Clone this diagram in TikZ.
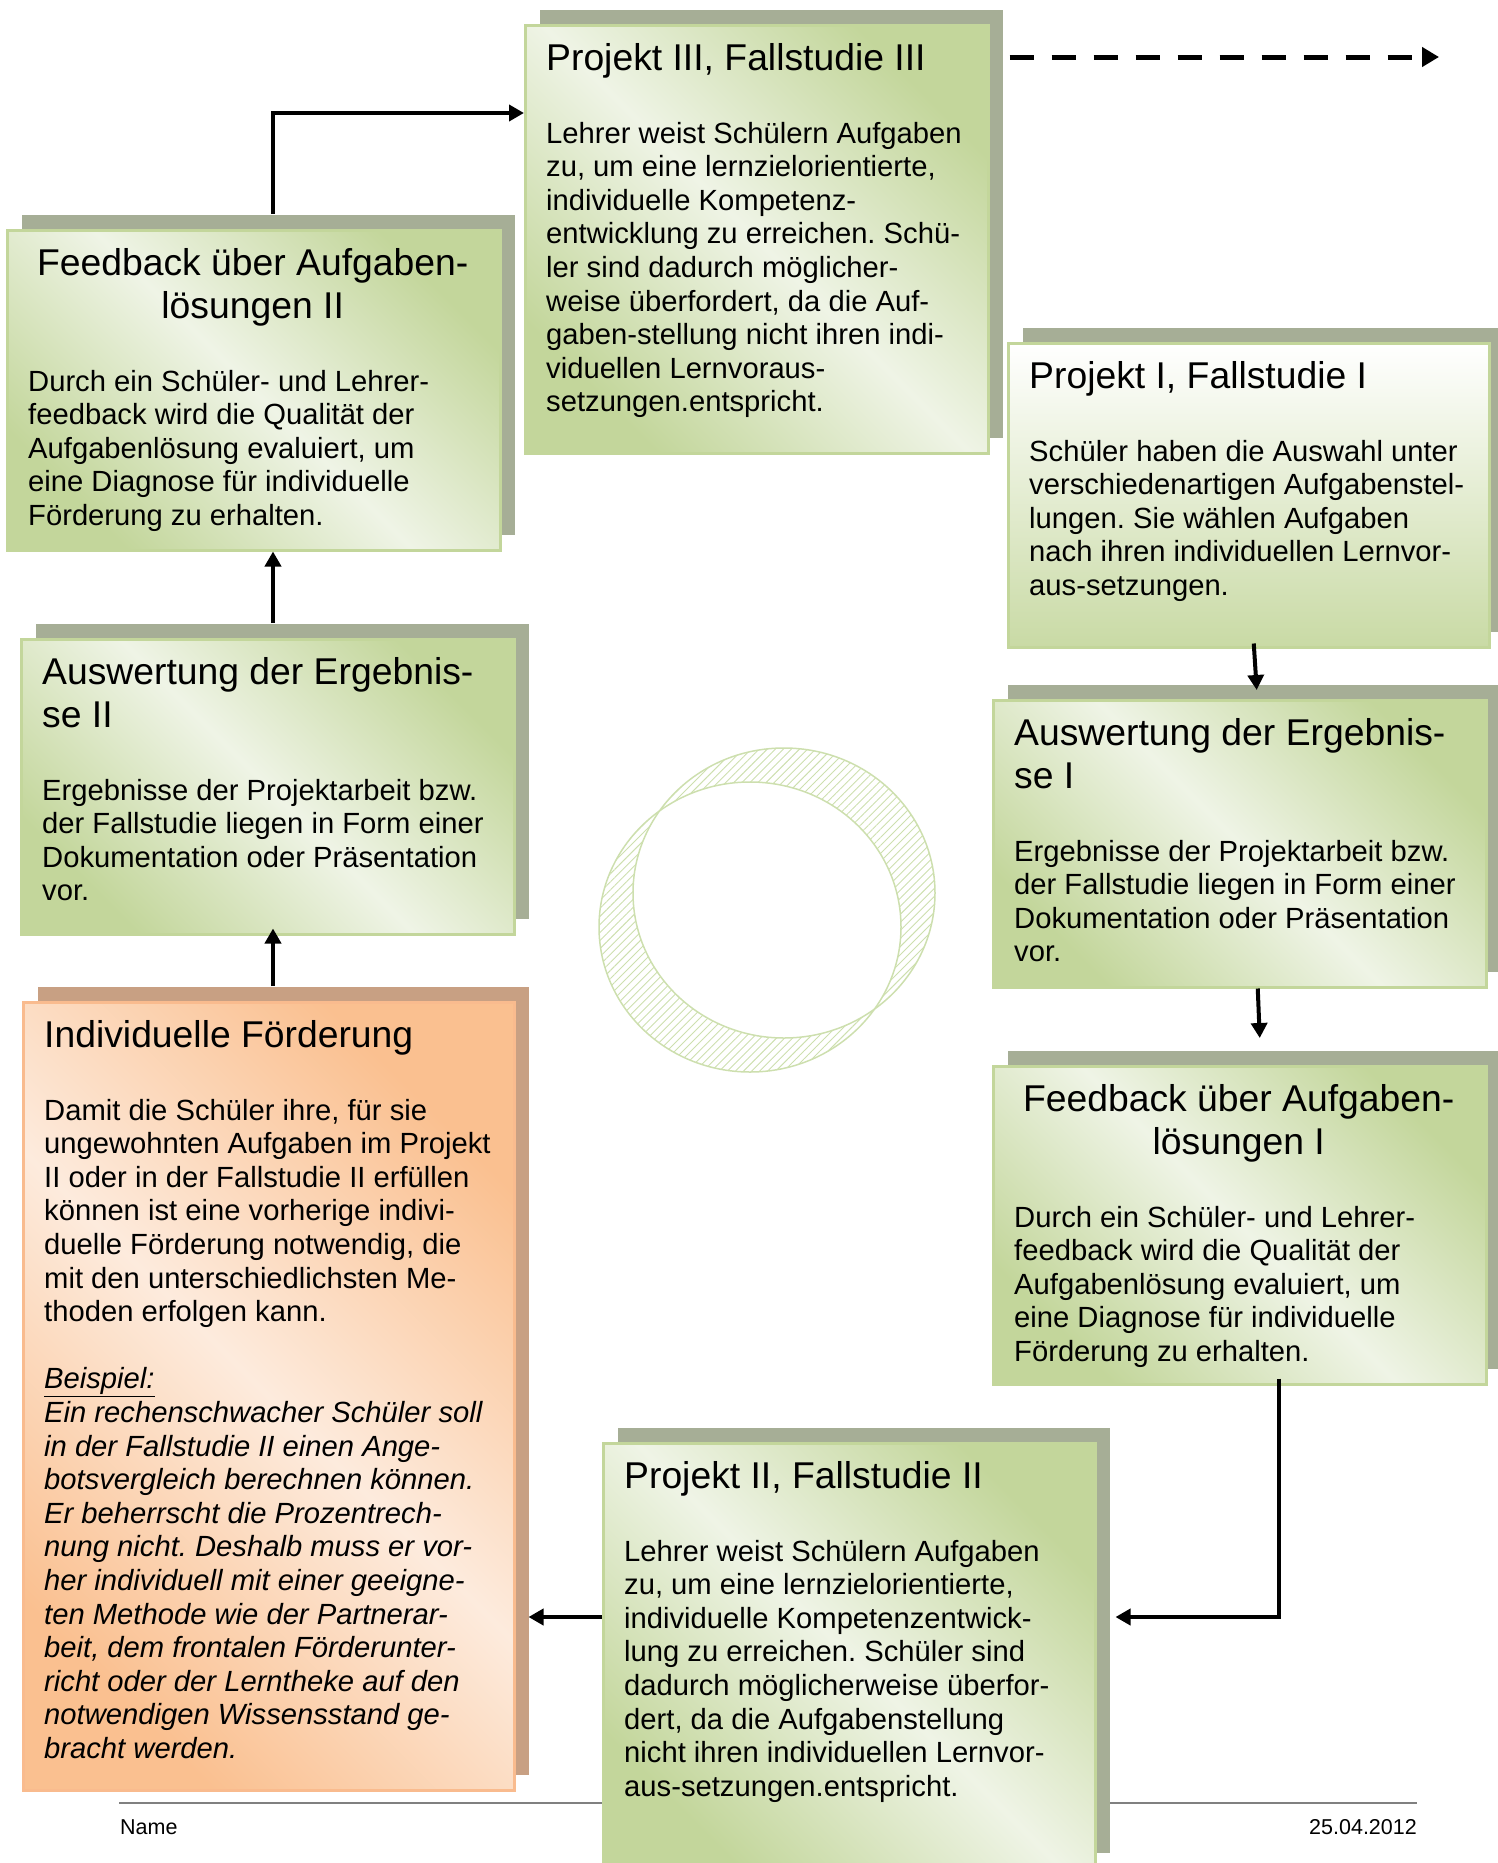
\documentclass[tikz,border=0pt]{standalone}
\usepackage{fontspec}
\setmainfont{Liberation Sans}
\usetikzlibrary{arrows.meta,shadows,patterns.meta}
\frenchspacing

\definecolor{boxgreen}{HTML}{C3D69B}
\definecolor{boxlight}{HTML}{EFF4E6}
\definecolor{boxshadow}{HTML}{A6AE96}
\definecolor{boxorange}{HTML}{FAC090}
\definecolor{boxpeach}{HTML}{FDEBDD}
\definecolor{orangeline}{HTML}{F9BB8E}
\definecolor{orangeshadow}{HTML}{C8A083}
\definecolor{ringgreen}{HTML}{CDDFAE}

\newcommand{\headfont}{\fontsize{37.3}{43}\selectfont\spaceskip=0pt\xspaceskip=0pt}
\newcommand{\bodyfont}{\fontsize{29.2}{33.6}\selectfont\spaceskip=0pt\xspaceskip=0pt}
\newcommand{\footfont}{\fontsize{21.5}{25}\selectfont}

\tikzset{
  box/.style={anchor=north west, inner sep=0pt, line width=2.5pt,
    drop shadow={shadow xshift=15pt, shadow yshift=15pt, fill=boxshadow, opacity=1}},
  greenbox/.style={box, draw=boxgreen, left color=boxgreen, right color=boxgreen,
    middle color=boxlight, shading angle=-45},
  fadebox/.style={box, draw=boxgreen, top color=white, bottom color=boxgreen!90,
    shading angle=0},
  orangebox/.style={box, draw=orangeline, left color=boxorange, right color=boxorange,
    middle color=boxpeach, shading angle=-45,
    drop shadow={shadow xshift=15pt, shadow yshift=15pt, fill=orangeshadow, opacity=1}},
}

\begin{document}
\begin{tikzpicture}[x=1pt,y=-1pt,
    flow/.style={-{Triangle[length=15pt,width=16pt]}, line width=4pt},
    dashflow/.style={-{Triangle[length=17pt,width=19pt]}, line width=5pt,
      dash pattern=on 24pt off 18pt},
    boxtext/.style={anchor=base west, inner sep=0pt, align=left},
    foottext/.style={inner sep=0pt, font=\footfont},
  ]
\useasboundingbox (0,0) rectangle (1498,1863);

% footer
\draw[gray, line width=2pt] (119,1803) -- (1417,1803);
\node[foottext, anchor=base west] (name) at (120,1834) {Name};
\node[foottext, anchor=base east] (date) at (1417,1834) {25.04.2012};

% ring in the middle
\fill[pattern={Lines[angle=45,distance=5.7pt,line width=0.9pt]}, pattern color=ringgreen,
  even odd rule] (784,893) ellipse [x radius=151, y radius=145]
  (750,927) ellipse [x radius=151, y radius=145];
\draw[ringgreen, line width=1.5pt] (784,893) ellipse [x radius=151, y radius=145];
\draw[ringgreen, line width=1.5pt] (750,927) ellipse [x radius=151, y radius=145];

% boxes
\node[greenbox, minimum width=463, minimum height=428] (p3) at (524,24) {};
\node[greenbox, minimum width=493, minimum height=320] (fb2) at (6,229) {};
\node[greenbox, minimum width=493, minimum height=295] (aw2) at (20,638) {};
\node[orangebox, minimum width=491, minimum height=788] (ind) at (22,1001) {};
\node[fadebox, minimum width=481, minimum height=304] (p1) at (1007,342) {};
\node[greenbox, minimum width=493, minimum height=287] (aw1) at (992,699) {};
\node[greenbox, minimum width=493, minimum height=318] (fb1) at (992,1065) {};
\node[greenbox, minimum width=492, minimum height=425] (p2) at (602,1442) {};

% texts
\node[boxtext, text width=433] (p3text) at ([shift={(22,46)}]p3.north west)
  {\headfont Projekt III, Fallstudie III\par\vspace{39.5pt}\bodyfont
   Lehrer weist Schülern Aufgaben\\
   zu, um eine lernzielorientierte,\\
   individuelle Kompetenz-\\
   entwicklung zu erreichen. Schü-\\
   ler sind dadurch möglicher-\\
   weise überfordert, da die Auf-\\
   gaben-stellung nicht ihren indi-\\
   viduellen Lernvoraus-\\
   setzungen.entspricht.\par};

\node[boxtext, text width=449] (fb2text) at ([shift={(22,46)}]fb2.north west)
  {{\centering\headfont Feedback über Aufgaben-\\lösungen II\par}\vspace{39.5pt}\bodyfont
   Durch ein Schüler- und Lehrer-\\
   feedback wird die Qualität der\\
   Aufgabenlösung evaluiert, um\\
   eine Diagnose für individuelle\\
   Förderung zu erhalten.\par};

\node[boxtext, text width=463] (aw2text) at ([shift={(22,46)}]aw2.north west)
  {\headfont Auswertung der Ergebnis-\\se II\par\vspace{39.5pt}\bodyfont
   Ergebnisse der Projektarbeit bzw.\\
   der Fallstudie liegen in Form einer\\
   Dokumentation oder Präsentation\\
   vor.\par};

\node[boxtext, text width=461] (indtext) at ([shift={(22,46)}]ind.north west)
  {\headfont Individuelle Förderung\par\vspace{39.5pt}\bodyfont
   Damit die Schüler ihre, für sie\\
   ungewohnten Aufgaben im Projekt\\
   II oder in der Fallstudie II erfüllen\\
   können ist eine vorherige indivi-\\
   duelle Förderung notwendig, die\\
   mit den unterschiedlichsten Me-\\
   thoden erfolgen kann.\par\vspace{33.6pt}
   \itshape\underline{Beispiel:}\\
   Ein rechenschwacher Schüler soll\\
   in der Fallstudie II einen Ange-\\
   botsvergleich berechnen können.\\
   Er beherrscht die Prozentrech-\\
   nung nicht. Deshalb muss er vor-\\
   her individuell mit einer geeigne-\\
   ten Methode wie der Partnerar-\\
   beit, dem frontalen Förderunter-\\
   richt oder der Lerntheke auf den\\
   notwendigen Wissensstand ge-\\
   bracht werden.\par};

\node[boxtext, text width=451] (p1text) at ([shift={(22,46)}]p1.north west)
  {\headfont Projekt I, Fallstudie I\par\vspace{39.5pt}\bodyfont
   Schüler haben die Auswahl unter\\
   verschiedenartigen Aufgabenstel-\\
   lungen. Sie wählen Aufgaben\\
   nach ihren individuellen Lernvor-\\
   aus-setzungen.\par};

\node[boxtext, text width=463] (aw1text) at ([shift={(22,46)}]aw1.north west)
  {\headfont Auswertung der Ergebnis-\\se I\par\vspace{39.5pt}\bodyfont
   Ergebnisse der Projektarbeit bzw.\\
   der Fallstudie liegen in Form einer\\
   Dokumentation oder Präsentation\\
   vor.\par};

\node[boxtext, text width=449] (fb1text) at ([shift={(22,46)}]fb1.north west)
  {{\centering\headfont Feedback über Aufgaben-\\lösungen I\par}\vspace{39.5pt}\bodyfont
   Durch ein Schüler- und Lehrer-\\
   feedback wird die Qualität der\\
   Aufgabenlösung evaluiert, um\\
   eine Diagnose für individuelle\\
   Förderung zu erhalten.\par};

\node[boxtext, text width=462] (p2text) at ([shift={(22,46)}]p2.north west)
  {\headfont Projekt II, Fallstudie II\par\vspace{39.5pt}\bodyfont
   Lehrer weist Schülern Aufgaben\\
   zu, um eine lernzielorientierte,\\
   individuelle Kompetenzentwick-\\
   lung zu erreichen. Schüler sind\\
   dadurch möglicherweise überfor-\\
   dert, da die Aufgabenstellung\\
   nicht ihren individuellen Lernvor-\\
   aus-setzungen.entspricht.\par};

% connectors
\coordinate (up) at (273,113);
\coordinate (bend) at (1279,1617);
\coordinate (next) at (1439,57);
\draw[flow, shorten <=15pt] (fb2.north -| up) -- (up) -- (p3.west |- up);
\draw[flow, shorten <=15pt] (aw2.north -| up) -- (fb2.south -| up);
\draw[flow, shorten <=15pt, shorten >=-7pt] (ind.north -| up) -- (aw2.south -| up);
\draw[flow] ([xshift=5pt,yshift=5pt]p1.south) -- ([xshift=17pt,yshift=9pt]aw1.north);
\draw[flow] ([xshift=18pt]aw1.south) -- ([xshift=20pt,yshift=27pt]fb1.north);
\draw[flow, shorten <=-7pt, shorten >=19pt] (fb1.south -| bend) -- (bend) -- (p2.east |- bend);
\draw[flow, shorten >=13pt] (p2.west |- bend) -- (ind.east |- bend);
\draw[dashflow, shorten <=20pt] (p3.north east |- next) -- (next);
\end{tikzpicture}
\end{document}
